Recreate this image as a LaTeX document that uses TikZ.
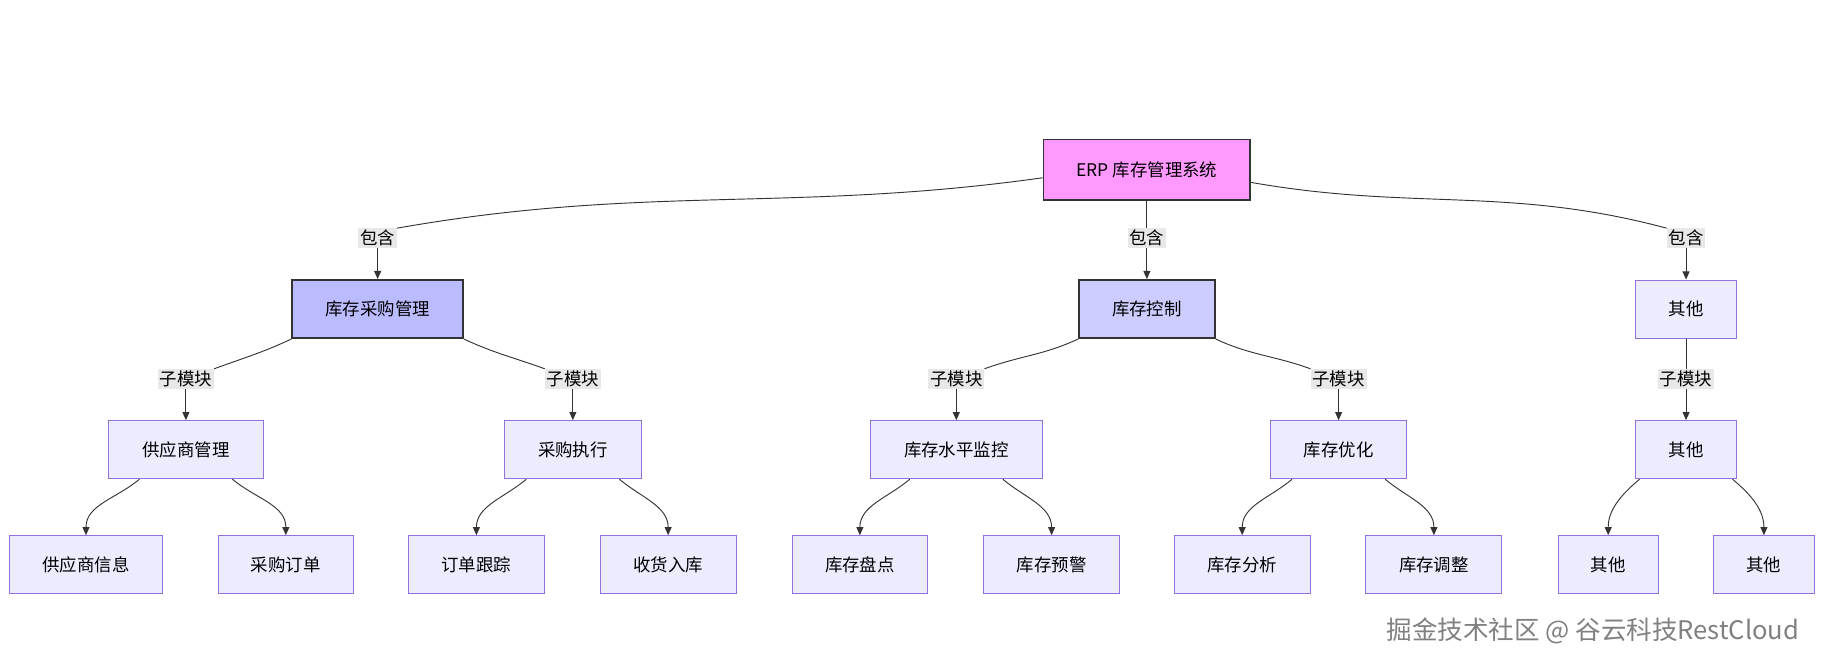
\documentclass[tikz,border=0pt]{standalone}
\usepackage{fontspec}
\setmainfont{Noto Sans CJK SC}
\usetikzlibrary{positioning,arrows.meta}
\definecolor{rootfill}{HTML}{FF99FF}
\definecolor{buyfill}{HTML}{BBBBFF}
\definecolor{ctrlfill}{HTML}{CCCCFF}
\definecolor{leaffill}{HTML}{ECECFF}
\definecolor{leafdraw}{HTML}{9370DB}
\definecolor{lblfill}{HTML}{E8E8E8}
\begin{document}
\begin{tikzpicture}[x=1pt,y=-1pt,
    >={Triangle[length=7pt,width=6pt]},
    font=\fontsize{15}{17}\selectfont
  ]
  \tikzset{
    box/.style = {rectangle, draw=leafdraw, fill=leaffill, line width=0.8pt, minimum height=50pt, text centered},
    top/.style = {box, draw=black!80, line width=1.6pt},
    lbl/.style = {fill=lblfill, inner sep=1.5pt},
    edge/.style = {draw=black!80, line width=0.8pt},
    arr/.style = {edge, ->}
  }
  \useasboundingbox (0,0) rectangle (1568,572);

  % top and first level
  \node [top, fill=rootfill, minimum width=178pt, minimum height=52pt] (erp) at (987,146) {ERP 库存管理系统};
  \node [top, fill=buyfill, minimum width=147pt] (buy) at (325,266) {库存采购管理};
  \node [top, fill=ctrlfill, minimum width=117pt] (ctrl) at (987,266) {库存控制};
  \node [box, minimum width=87pt] (etc) at (1451,266) {其他};

  % second level
  \node [box, minimum width=133pt] (supp) at (160,387) {供应商管理};
  \node [box, minimum width=118pt] (exec) at (493,387) {采购执行};
  \node [box, minimum width=148pt] (level) at (823,387) {库存水平监控};
  \node [box, minimum width=117pt] (opt) at (1152,387) {库存优化};
  \node [box, minimum width=87pt] (etcB) at (1451,387) {其他};

  % third level
  \node [box, minimum width=132pt] (suppInfo) at (74,486) {供应商信息};
  \node [box, minimum width=116pt] (order) at (246,486) {采购订单};
  \node [box, minimum width=117pt] (track) at (410,486) {订单跟踪};
  \node [box, minimum width=117pt] (recv) at (575,486) {收货入库};
  \node [box, minimum width=116pt] (count) at (740,486) {库存盘点};
  \node [box, minimum width=117pt] (warn) at (905,486) {库存预警};
  \node [box, minimum width=117pt] (anal) at (1069,486) {库存分析};
  \node [box, minimum width=117pt] (adj) at (1234,486) {库存调整};
  \node [box, minimum width=86pt] (etcC) at (1384,486) {其他};
  \node [box, minimum width=87pt] (etcD) at (1518,486) {其他};

  % edge labels
  \node [lbl] (lbBuy) at (325,205) {包含};
  \node [lbl] (lbCtrl) at (987,205) {包含};
  \node [lbl] (lbEtc) at (1451,205) {包含};
  \node [lbl] (lbSupp) at (160,326) {子模块};
  \node [lbl] (lbExec) at (493,326) {子模块};
  \node [lbl] (lbLevel) at (823,326) {子模块};
  \node [lbl] (lbOpt) at (1152,326) {子模块};
  \node [lbl] (lbEtcB) at (1451,326) {子模块};

  \draw [edge] (erp.west) ++(0,7) to[out=188,in=10] (lbBuy.north east);
  \draw [edge] (erp) -- (lbCtrl);
  \draw [edge] (erp.east) ++(0,11) to[out=-10,in=165] (lbEtc.north west);
  \draw [edge] (buy.south west) to[out=-155,in=20] (lbSupp.north east);
  \draw [edge] (buy.south east) to[out=-25,in=160] (lbExec.north west);
  \draw [edge] (ctrl.south west) to[out=-155,in=20] (lbLevel.north east);
  \draw [edge] (ctrl.south east) to[out=-25,in=160] (lbOpt.north west);
  \draw [edge] (etc) -- (lbEtcB);

  \foreach \a/\b in {lbBuy/buy, lbCtrl/ctrl, lbEtc/etc, lbSupp/supp, lbExec/exec, lbLevel/level, lbOpt/opt, lbEtcB/etcB}
    \draw [arr] (\a) -- (\b);

  \foreach \a/\b/\c in {supp/suppInfo/order, exec/track/recv, level/count/warn, opt/anal/adj, etcB/etcC/etcD} {
    \draw [arr] (\a.south) ++(-40,0) to[out=-140,in=90] (\b.north);
    \draw [arr] (\a.south) ++(40,0) to[out=-40,in=90] (\c.north);
  }

  \node [text=black!50, font=\fontsize{22}{24}\selectfont, anchor=east] (mark) at (1552,543) {掘金技术社区 @ 谷云科技RestCloud};
\end{tikzpicture}
\end{document}
